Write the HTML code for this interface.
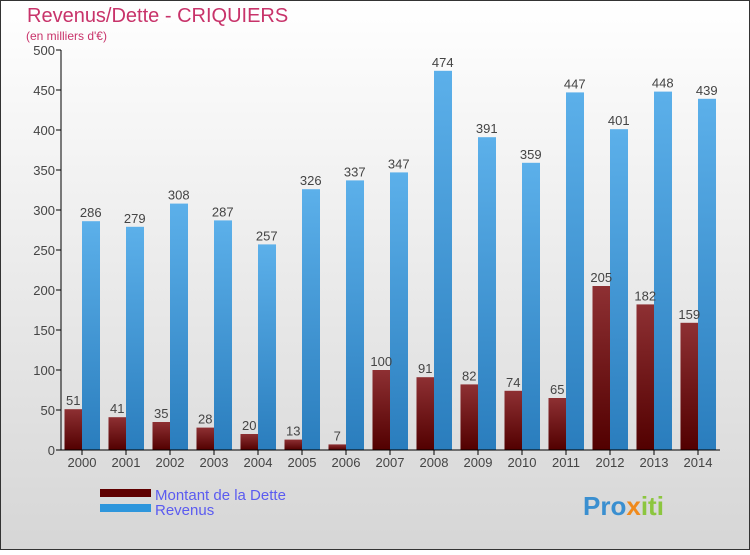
<!DOCTYPE html>
<html><head><meta charset="utf-8"><style>
body{margin:0}
svg text{font-family:"Liberation Sans",sans-serif}
</style></head><body>
<svg id="c" width="750" height="550" xmlns="http://www.w3.org/2000/svg">
<defs>
<linearGradient id="bg" x1="0" y1="0" x2="0" y2="1"><stop offset="0" stop-color="#ffffff"/><stop offset="1" stop-color="#d6d6d6"/></linearGradient>
<linearGradient id="gr" x1="0" y1="0" x2="0" y2="1"><stop offset="0" stop-color="#8e3033"/><stop offset="1" stop-color="#520000"/></linearGradient>
<linearGradient id="gb" x1="0" y1="0" x2="0" y2="1"><stop offset="0" stop-color="#5cb0ea"/><stop offset="1" stop-color="#2a7dbd"/></linearGradient>
</defs>
<rect x="0.5" y="0.5" width="749" height="549" fill="url(#bg)" stroke="#333"/>
<text x="27" y="22" font-size="20" fill="#c8336a">Revenus/Dette - CRIQUIERS</text>
<text x="26" y="40" font-size="12" fill="#c8336a">(en milliers d'€)</text>
<g id="plot"></g>
<rect x="100" y="489" width="51" height="8" fill="#600000"/>
<rect x="100" y="504" width="51" height="8" fill="#2e96dc"/>
<text x="155" y="500" font-size="15" fill="#5b5bf0">Montant de la Dette</text>
<text x="155" y="515" font-size="15" fill="#5b5bf0">Revenus</text>
<text x="583" y="515" font-size="26" font-weight="bold" fill="#3a8fd0">Pro<tspan fill="#f08a1c">x</tspan><tspan fill="#8cc63f">iti</tspan></text>
</svg>
<script>
const years=["2000","2001","2002","2003","2004","2005","2006","2007","2008","2009","2010","2011","2012","2013","2014"];
const dette=[51,41,35,28,20,13,7,100,91,82,74,65,205,182,159];
const revenus=[286,279,308,287,257,326,337,347,474,391,359,447,401,448,439];
const yTicks=[0,50,100,150,200,250,300,350,400,450,500];
const NS="http://www.w3.org/2000/svg";
const g=document.getElementById('plot');
const y0=450,ppu=0.8,x0=82,step=44,bw=17.5;
const Y=v=>y0-v*ppu, X=i=>x0+i*step;
function mk(t,a){const e=document.createElementNS(NS,t);for(const k in a)e.setAttribute(k,a[k]);g.appendChild(e);return e;}
yTicks.forEach(v=>{
 const l=mk('line',{x1:56,x2:61,y1:Y(v),y2:Y(v),stroke:'#000'});
 
 
 const t=mk('text',{x:55,y:Y(v)+5,'font-size':13,'text-anchor':'end',fill:'#444'});t.textContent=v;
 
 
});
years.forEach((yr,i)=>{
 const cx=X(i);
 const r=mk('rect',{x:cx-bw,y:Y(dette[i]),width:bw,height:dette[i]*ppu,fill:'url(#gr)'});
 
 
 const b=mk('rect',{x:cx,y:Y(revenus[i]),width:bw+0.5,height:revenus[i]*ppu,fill:'url(#gb)'});
 
 
 const t1=mk('text',{x:cx-bw/2,y:Y(dette[i])-4,'font-size':13,'text-anchor':'middle',fill:'#444'});t1.textContent=dette[i];
 
 
 const t2=mk('text',{x:cx+bw/2,y:Y(revenus[i])-4,'font-size':13,'text-anchor':'middle',fill:'#444'});t2.textContent=revenus[i];
 
 
 const tk=mk('line',{x1:cx,x2:cx,y1:450,y2:455,stroke:'#000'});
 
 
 const tl=mk('text',{x:cx,y:467,'font-size':13,'text-anchor':'middle',fill:'#444'});tl.textContent=yr;
 
 
});
const ya=mk('line',{x1:61,x2:61,y1:50,y2:450,stroke:'#000'});


const xa=mk('line',{x1:61,x2:720,y1:450,y2:450,stroke:'#000'});


</script>
</body></html>
